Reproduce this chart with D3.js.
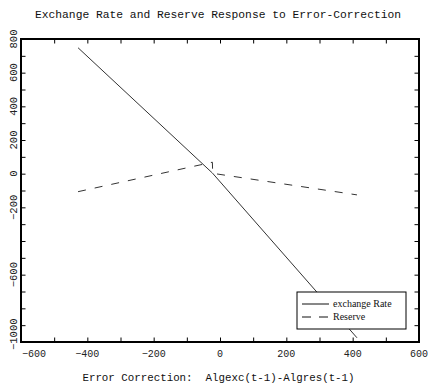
<!DOCTYPE html>
<html>
<head>
<meta charset="utf-8">
<script src="https://cdn.jsdelivr.net/npm/d3@7"></script>
<style>
  body { margin: 0; background: #fff; }
  svg { display: block; }
</style>
</head>
<body>
<svg id="chart" width="428" height="389"></svg>
<script>
// values
const ecValues = [-428, -23, -22, 413];          // error correction Algexc(t-1)-Algres(t-1)
const exchangeRate = [748, 4, 2, -975];
const reserve = [-107, 68, 2, -126];

const xTicks = d3.range(-600, 601, 100);
const xLabels = [-600, -400, -200, 0, 200, 400, 600];
const yTicks = d3.range(-1000, 801, 100);
const yLabels = [800, 600, 400, 200, 0, -200, -600, -1000];

const title = "Exchange Rate and Reserve Response to Error-Correction";
const xTitle = "Error Correction:  Algexc(t-1)-Algres(t-1)";
const legendNames = ["exchange Rate", "Reserve"];

const svg = d3.select("#chart");
const mono = "'Liberation Mono', 'DejaVu Sans Mono', monospace";
const serif = "'Liberation Serif', 'DejaVu Serif', serif";

const frame = { left: 21, right: 419, top: 39, bottom: 342 };

const x = d3.scaleLinear().domain([-600, 600]).range([frame.left, frame.right]);
const y = d3.scaleLinear().domain([-1000, 800]).range([frame.bottom, frame.top]);

const fmt = d3.format("d");
const tickLen = 4.5;

// ticks on all four sides, pointing inward
svg.append("g")
    .attr("transform", `translate(0, ${frame.bottom})`)
    .call(d3.axisBottom(x).tickValues(xTicks).tickSizeInner(-tickLen).tickSizeOuter(0).tickFormat(""));
svg.append("g")
    .attr("transform", `translate(0, ${frame.top})`)
    .call(d3.axisTop(x).tickValues(xTicks).tickSizeInner(-tickLen).tickSizeOuter(0).tickFormat(""));
svg.append("g")
    .attr("transform", `translate(${frame.left}, 0)`)
    .call(d3.axisLeft(y).tickValues(yTicks).tickSizeInner(-tickLen).tickSizeOuter(0).tickFormat(""));
svg.append("g")
    .attr("transform", `translate(${frame.right}, 0)`)
    .call(d3.axisRight(y).tickValues(yTicks).tickSizeInner(-tickLen).tickSizeOuter(0).tickFormat(""));
svg.selectAll(".domain").remove();
svg.selectAll(".tick line").attr("stroke", "#000").attr("stroke-width", 1);

// frame
svg.append("rect")
    .attr("x", frame.left)
    .attr("y", frame.top)
    .attr("width", frame.right - frame.left)
    .attr("height", frame.bottom - frame.top)
    .attr("fill", "none")
    .attr("stroke", "#000")
    .attr("stroke-width", 2);

// x tick labels
const xl = svg.append("g").selectAll("text")
    .data(xLabels)
    .join("text")
    .attr("x", d => x(d))
    .attr("y", 357)
    .attr("text-anchor", "middle")
    .style("font-family", mono)
    .style("font-size", "10px")
    .attr("fill", "#222")
    .text(d => fmt(d));
// keep the first label off the y labels
xl.each(function(d) {
    const w = this.getComputedTextLength();
    if (x(d) - w / 2 < frame.left) d3.select(this).attr("text-anchor", "start").attr("x", x(d) + 1);
});

// y tick labels, rotated
const yl = svg.append("g").selectAll("text")
    .data(yLabels)
    .join("text")
    .attr("transform", d => `translate(13, ${y(d)}) rotate(-90)`)
    .attr("text-anchor", "middle")
    .attr("dy", "0.35em")
    .style("font-family", mono)
    .style("font-size", "10.5px")
    .attr("fill", "#222")
    .text(d => fmt(d));
yl.each(function(d) {
    const w = this.getComputedTextLength();
    if (y(d) + w / 2 > 350) d3.select(this).attr("transform", `translate(13, ${350 - w / 2}) rotate(-90)`);
});

// series
const line = ys => d3.line()
    .x((d, i) => x(ecValues[i]))
    .y(d => y(d))(ys);

svg.append("path")
    .attr("d", line(exchangeRate))
    .attr("fill", "none")
    .attr("stroke", "#333")
    .attr("stroke-width", 1);

svg.append("path")
    .attr("d", line(reserve))
    .attr("fill", "none")
    .attr("stroke", "#333")
    .attr("stroke-width", 1)
    .attr("stroke-dasharray", "8,9");

// title
svg.append("text")
    .attr("x", 218)
    .attr("y", 18)
    .attr("text-anchor", "middle")
    .style("font-family", mono)
    .style("font-size", "11.3px")
    .attr("fill", "#111")
    .text(title);

// x axis title
svg.append("text")
    .attr("x", 218.5)
    .attr("y", 381)
    .attr("text-anchor", "middle")
    .style("font-family", mono)
    .style("font-size", "10.8px")
    .style("white-space", "pre")
    .attr("fill", "#111")
    .text(xTitle);

// legend
const legend = svg.append("g").attr("transform", "translate(297, 292)");
legend.append("rect")
    .attr("width", 109)
    .attr("height", 37)
    .attr("fill", "#fff")
    .attr("stroke", "#000")
    .attr("stroke-width", 1);

const legendRows = legend.selectAll("g.row")
    .data(legendNames)
    .join("g")
    .attr("class", "row")
    .attr("transform", (d, i) => `translate(0, ${12 + i * 13})`);

legendRows.append("line")
    .attr("x1", 5)
    .attr("x2", 32)
    .attr("stroke", "#111")
    .attr("stroke-width", 1)
    .attr("stroke-dasharray", (d, i) => i === 1 ? "9,8" : null);

legendRows.append("text")
    .attr("x", 36)
    .attr("dy", "0.32em")
    .style("font-family", serif)
    .style("font-size", "10px")
    .attr("fill", "#111")
    .text(d => d);
</script>
</body>
</html>
